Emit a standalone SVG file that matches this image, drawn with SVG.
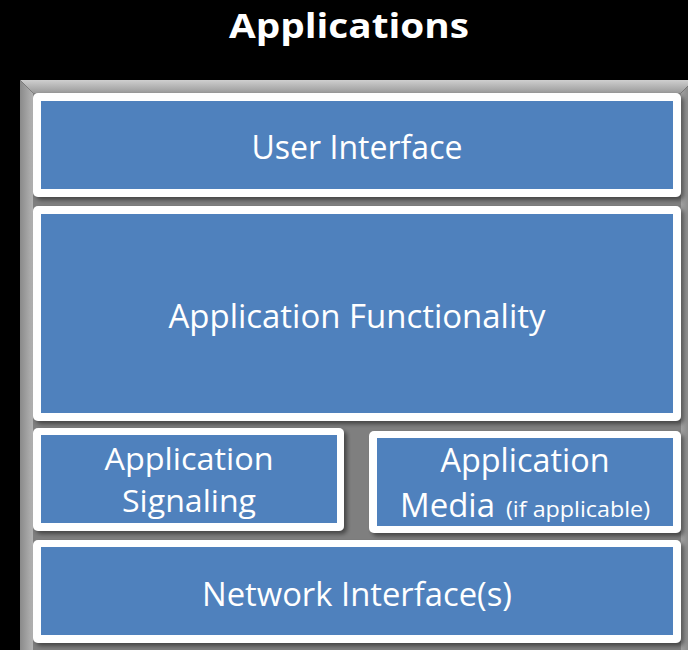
<svg xmlns="http://www.w3.org/2000/svg" width="688" height="650" viewBox="0 0 688 650">
  <defs>
    <linearGradient id="gTop" x1="0" y1="0" x2="0" y2="1">
      <stop offset="0" stop-color="#cfcfcf"/>
      <stop offset="1" stop-color="#9a9a9a"/>
    </linearGradient>
    <linearGradient id="gLeft" x1="0" y1="0" x2="1" y2="0">
      <stop offset="0" stop-color="#8a8a8a"/>
      <stop offset="1" stop-color="#b4b4b4"/>
    </linearGradient>
    <linearGradient id="gRight" x1="0" y1="0" x2="1" y2="0">
      <stop offset="0" stop-color="#a0a0a0"/>
      <stop offset="1" stop-color="#7c7c7c"/>
    </linearGradient>
    <filter id="shadow" x="-5%" y="-5%" width="115%" height="120%">
      <feDropShadow dx="3" dy="3" stdDeviation="2" flood-color="#000" flood-opacity="0.45"/>
    </filter>
  </defs>
  <style>
    .outer { fill: #ffffff; filter: url(#shadow); }
    .inner { fill: #4f81bd; }
    .lbl { font-family: "Open Sans", "Liberation Sans", sans-serif; font-size: 33px; fill: #ffffff; text-anchor: middle; }
    .two { font-size: 31px; }
    .small { font-size: 22px; }
    .title { font-family: "Open Sans", "Liberation Sans", sans-serif; font-size: 34px; font-weight: bold; fill: #ffffff; text-anchor: middle; }
  </style>
  <rect x="0" y="0" width="688" height="650" fill="#000000"/>
  <text class="title" x="349" y="38" textLength="240" lengthAdjust="spacingAndGlyphs">Applications</text>

  <g id="frame">
    <rect x="33" y="93" width="648" height="557" fill="#7f7f7f"/>
    <polygon points="20,80 694,80 681,93 33,93" fill="url(#gTop)"/>
    <polygon points="20,80 33,93 33,650 20,650" fill="url(#gLeft)"/>
    <polygon points="694,80 681,93 681,650 694,650" fill="url(#gRight)"/>
  </g>

  <g id="user-interface">
    <rect class="outer" x="33" y="93" width="648" height="104" rx="5"/>
    <rect class="inner" x="41" y="101" width="632" height="88"/>
    <text class="lbl" x="357" y="159" textLength="211" lengthAdjust="spacingAndGlyphs">User Interface</text>
  </g>

  <g id="application-functionality">
    <rect class="outer" x="33" y="206" width="648" height="215" rx="5"/>
    <rect class="inner" x="41" y="214" width="632" height="199"/>
    <text class="lbl" x="357" y="328" textLength="377" lengthAdjust="spacingAndGlyphs">Application Functionality</text>
  </g>

  <g id="application-signaling">
    <rect class="outer" x="33" y="428" width="311" height="103" rx="5"/>
    <rect class="inner" x="41" y="435" width="296" height="88"/>
    <text class="lbl two" x="189" y="470" textLength="169" lengthAdjust="spacingAndGlyphs">Application</text>
    <text class="lbl two" x="189" y="512" textLength="134" lengthAdjust="spacingAndGlyphs">Signaling</text>
  </g>

  <g id="application-media">
    <rect class="outer" x="369" y="431" width="312" height="102" rx="5"/>
    <rect class="inner" x="377" y="438" width="296" height="88"/>
    <text class="lbl" x="525" y="472" textLength="169" lengthAdjust="spacingAndGlyphs">Application</text>
    <text class="lbl" style="text-anchor:start" x="400" y="517"><tspan textLength="95" lengthAdjust="spacingAndGlyphs">Media</tspan><tspan class="small" x="506" textLength="144" lengthAdjust="spacingAndGlyphs">(if applicable)</tspan></text>
  </g>

  <g id="network-interface">
    <rect class="outer" x="33" y="540" width="648" height="103" rx="5"/>
    <rect class="inner" x="41" y="547" width="632" height="88"/>
    <text class="lbl" x="357" y="606" textLength="310" lengthAdjust="spacingAndGlyphs">Network Interface(s)</text>
  </g>

  <g id="connectors"/>
</svg>
